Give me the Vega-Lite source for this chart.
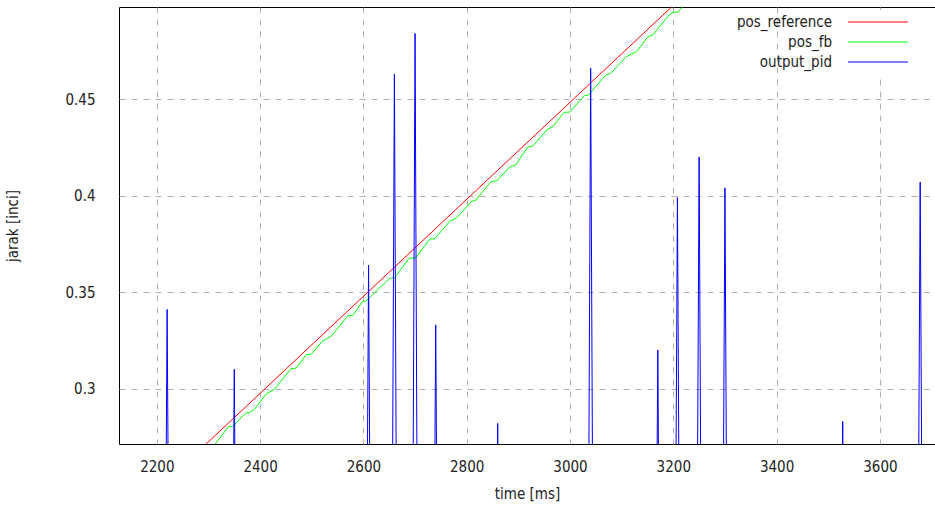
{
  "$schema": "https://vega.github.io/schema/vega-lite/v6.json",
  "autosize": "none",
  "width": 816,
  "height": 437,
  "padding": {"left": 119, "top": 7, "right": 0, "bottom": 69},
  "background": "white",
  "config": {
    "view": {"stroke": "#000000", "strokeWidth": 1},
    "font": "DejaVu Sans Condensed, Liberation Sans, sans-serif",
    "axis": {
      "grid": true,
      "gridColor": "#b0b0b0",
      "gridDash": [6, 6],
      "gridWidth": 1,
      "domain": false,
      "ticks": false,
      "labelFont": "DejaVu Sans Condensed, Liberation Sans, sans-serif",
      "labelFontSize": 15,
      "labelColor": "#222222",
      "titleFont": "DejaVu Sans Condensed, Liberation Sans, sans-serif",
      "titleFontSize": 15,
      "titleFontWeight": "normal",
      "titleColor": "#222222"
    },
    "legend": {
      "labelFont": "DejaVu Sans Condensed, Liberation Sans, sans-serif",
      "labelFontSize": 15,
      "labelColor": "#222222"
    }
  },
  "data": {
    "values": [
      {"t": 2200, "v": 0.2473, "series": "pos_reference"},
      {"t": 3300, "v": 0.5237, "series": "pos_reference"},
      {"t": 2295, "v": 0.2640, "series": "pos_fb"},
      {"t": 2313, "v": 0.2713, "series": "pos_fb"},
      {"t": 2339, "v": 0.2803, "series": "pos_fb"},
      {"t": 2347, "v": 0.2803, "series": "pos_fb"},
      {"t": 2372, "v": 0.2873, "series": "pos_fb"},
      {"t": 2380, "v": 0.2876, "series": "pos_fb"},
      {"t": 2389, "v": 0.2893, "series": "pos_fb"},
      {"t": 2412, "v": 0.2973, "series": "pos_fb"},
      {"t": 2428, "v": 0.2997, "series": "pos_fb"},
      {"t": 2460, "v": 0.3104, "series": "pos_fb"},
      {"t": 2470, "v": 0.3106, "series": "pos_fb"},
      {"t": 2489, "v": 0.3175, "series": "pos_fb"},
      {"t": 2499, "v": 0.3178, "series": "pos_fb"},
      {"t": 2520, "v": 0.3244, "series": "pos_fb"},
      {"t": 2538, "v": 0.3273, "series": "pos_fb"},
      {"t": 2570, "v": 0.3377, "series": "pos_fb"},
      {"t": 2580, "v": 0.3380, "series": "pos_fb"},
      {"t": 2598, "v": 0.3451, "series": "pos_fb"},
      {"t": 2605, "v": 0.3454, "series": "pos_fb"},
      {"t": 2631, "v": 0.3520, "series": "pos_fb"},
      {"t": 2651, "v": 0.3572, "series": "pos_fb"},
      {"t": 2660, "v": 0.3573, "series": "pos_fb"},
      {"t": 2689, "v": 0.3676, "series": "pos_fb"},
      {"t": 2701, "v": 0.3677, "series": "pos_fb"},
      {"t": 2729, "v": 0.3776, "series": "pos_fb"},
      {"t": 2738, "v": 0.3776, "series": "pos_fb"},
      {"t": 2768, "v": 0.3869, "series": "pos_fb"},
      {"t": 2780, "v": 0.3883, "series": "pos_fb"},
      {"t": 2809, "v": 0.3969, "series": "pos_fb"},
      {"t": 2818, "v": 0.3977, "series": "pos_fb"},
      {"t": 2847, "v": 0.4072, "series": "pos_fb"},
      {"t": 2858, "v": 0.4076, "series": "pos_fb"},
      {"t": 2883, "v": 0.4147, "series": "pos_fb"},
      {"t": 2895, "v": 0.4159, "series": "pos_fb"},
      {"t": 2918, "v": 0.4251, "series": "pos_fb"},
      {"t": 2928, "v": 0.4257, "series": "pos_fb"},
      {"t": 2955, "v": 0.4340, "series": "pos_fb"},
      {"t": 2968, "v": 0.4361, "series": "pos_fb"},
      {"t": 2989, "v": 0.4432, "series": "pos_fb"},
      {"t": 2999, "v": 0.4432, "series": "pos_fb"},
      {"t": 3028, "v": 0.4518, "series": "pos_fb"},
      {"t": 3036, "v": 0.4521, "series": "pos_fb"},
      {"t": 3069, "v": 0.4624, "series": "pos_fb"},
      {"t": 3078, "v": 0.4631, "series": "pos_fb"},
      {"t": 3109, "v": 0.4720, "series": "pos_fb"},
      {"t": 3129, "v": 0.4746, "series": "pos_fb"},
      {"t": 3151, "v": 0.4824, "series": "pos_fb"},
      {"t": 3160, "v": 0.4831, "series": "pos_fb"},
      {"t": 3189, "v": 0.4927, "series": "pos_fb"},
      {"t": 3199, "v": 0.4950, "series": "pos_fb"},
      {"t": 3209, "v": 0.4950, "series": "pos_fb"},
      {"t": 3217, "v": 0.4976, "series": "pos_fb"},
      {"t": 3240, "v": 0.5050, "series": "pos_fb"},
      {"t": 2212, "v": 0, "series": "output_pid"},
      {"t": 2220, "v": 0.341, "series": "output_pid"},
      {"t": 2228, "v": 0, "series": "output_pid"},
      {"t": 2342, "v": 0, "series": "output_pid"},
      {"t": 2350, "v": 0.310, "series": "output_pid"},
      {"t": 2358, "v": 0, "series": "output_pid"},
      {"t": 2602, "v": 0, "series": "output_pid"},
      {"t": 2610, "v": 0.364, "series": "output_pid"},
      {"t": 2618, "v": 0, "series": "output_pid"},
      {"t": 2652, "v": 0, "series": "output_pid"},
      {"t": 2660, "v": 0.463, "series": "output_pid"},
      {"t": 2668, "v": 0, "series": "output_pid"},
      {"t": 2692, "v": 0, "series": "output_pid"},
      {"t": 2700, "v": 0.484, "series": "output_pid"},
      {"t": 2708, "v": 0, "series": "output_pid"},
      {"t": 2732, "v": 0, "series": "output_pid"},
      {"t": 2740, "v": 0.333, "series": "output_pid"},
      {"t": 2748, "v": 0, "series": "output_pid"},
      {"t": 2852, "v": 0, "series": "output_pid"},
      {"t": 2860, "v": 0.282, "series": "output_pid"},
      {"t": 2868, "v": 0, "series": "output_pid"},
      {"t": 3032, "v": 0, "series": "output_pid"},
      {"t": 3040, "v": 0.466, "series": "output_pid"},
      {"t": 3048, "v": 0, "series": "output_pid"},
      {"t": 3162, "v": 0, "series": "output_pid"},
      {"t": 3170, "v": 0.320, "series": "output_pid"},
      {"t": 3178, "v": 0, "series": "output_pid"},
      {"t": 3200, "v": 0, "series": "output_pid"},
      {"t": 3208, "v": 0.399, "series": "output_pid"},
      {"t": 3216, "v": 0, "series": "output_pid"},
      {"t": 3242, "v": 0, "series": "output_pid"},
      {"t": 3250, "v": 0.420, "series": "output_pid"},
      {"t": 3258, "v": 0, "series": "output_pid"},
      {"t": 3292, "v": 0, "series": "output_pid"},
      {"t": 3300, "v": 0.404, "series": "output_pid"},
      {"t": 3308, "v": 0, "series": "output_pid"},
      {"t": 3520, "v": 0, "series": "output_pid"},
      {"t": 3528, "v": 0.283, "series": "output_pid"},
      {"t": 3536, "v": 0, "series": "output_pid"},
      {"t": 3670, "v": 0, "series": "output_pid"},
      {"t": 3678, "v": 0.407, "series": "output_pid"},
      {"t": 3686, "v": 0, "series": "output_pid"}
    ]
  },
  "mark": {"type": "line", "clip": true},
  "encoding": {
    "x": {
      "field": "t",
      "type": "quantitative",
      "scale": {"domain": [2126.8, 3706.7], "nice": false, "zero": false},
      "axis": {
        "values": [2200, 2400, 2600, 2800, 3000, 3200, 3400, 3600],
        "format": "d",
        "labelPadding": 15,
        "title": "time [ms]",
        "titlePadding": 12
      }
    },
    "y": {
      "field": "v",
      "type": "quantitative",
      "scale": {"domain": [0.2713, 0.4977], "nice": false, "zero": false},
      "axis": {
        "values": [0.3, 0.35, 0.4, 0.45],
        "labelExpr": "'' + datum.value",
        "labelPadding": 24,
        "title": "jarak [inci]",
        "titlePadding": 44
      }
    },
    "color": {
      "field": "series",
      "type": "nominal",
      "scale": {
        "domain": ["pos_reference", "pos_fb", "output_pid"],
        "range": ["#ff0000", "#00ff00", "#0000ff"]
      },
      "legend": {
        "title": null,
        "orient": "none",
        "legendX": 747,
        "legendY": 3,
        "symbolType": "M-4,0H4",
        "symbolSize": 225,
        "symbolStrokeWidth": 1,
        "labelAlign": "right",
        "labelOffset": -54,
        "rowPadding": 4,
        "padding": 4,
        "fillColor": "white"
      }
    },
    "strokeWidth": {
      "field": "series",
      "type": "nominal",
      "scale": {
        "domain": ["pos_reference", "pos_fb", "output_pid"],
        "range": [1, 1, 1.6]
      },
      "legend": null
    }
  }
}
